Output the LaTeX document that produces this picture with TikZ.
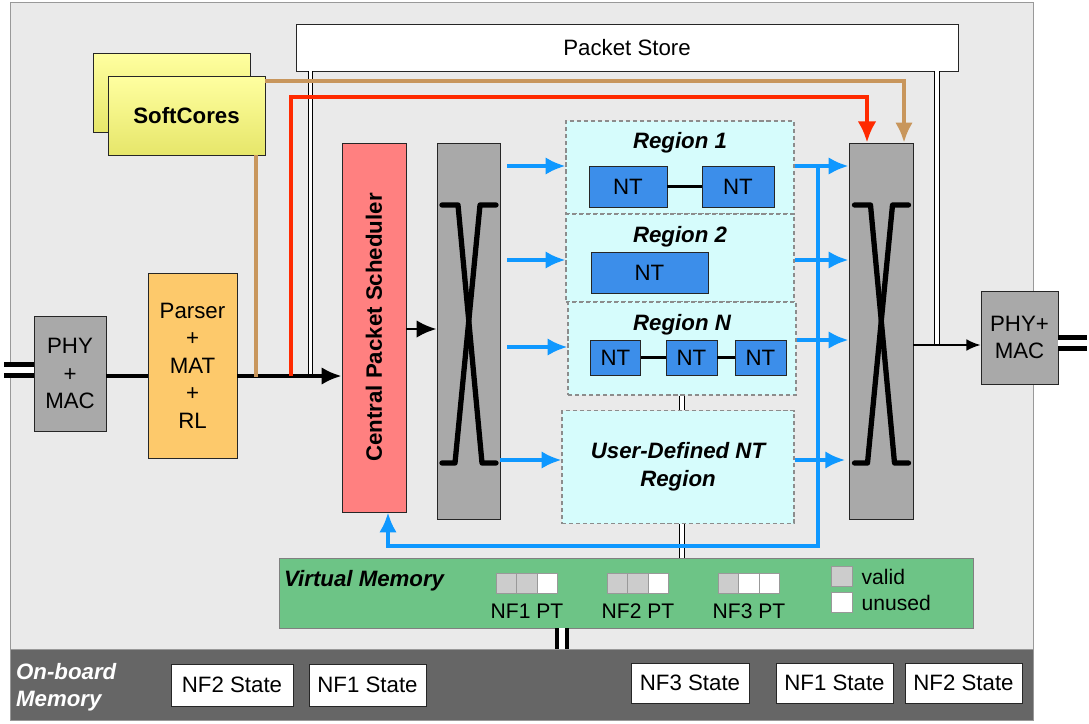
\documentclass[tikz,border=0pt]{standalone}
\usepackage{fontspec}
\setmainfont{Liberation Sans}
\usepackage{tikz}
\usetikzlibrary{positioning}
\usetikzlibrary{arrows, arrows.meta}
\definecolor{boardgray}{HTML}{EAEAEA}
\definecolor{memgray}{HTML}{666666}
\definecolor{phygray}{HTML}{A9A9A9}
\definecolor{parserorange}{HTML}{FDC96B}
\definecolor{schedred}{HTML}{FF8080}
\definecolor{regioncyan}{HTML}{D6FCFC}
\definecolor{ntblue}{HTML}{3C8EEA}
\definecolor{vmgreen}{HTML}{6DC486}
\definecolor{flowblue}{HTML}{0F98FF}
\definecolor{ctrlred}{HTML}{FF2A00}
\definecolor{coretan}{HTML}{C8965C}
\definecolor{coretop}{HTML}{FFFFA0}
\definecolor{corebot}{HTML}{E6E66A}
\definecolor{ptgray}{HTML}{CCCCCC}

\begin{document}
\begin{tikzpicture}[x=0.3mm, y=-0.3mm, font=\fontsize{19}{23.5}\selectfont,
    sz/.style 2 args = {minimum width=#1*0.3mm, minimum height=#2*0.3mm},
    box/.style = {draw=black!85, line width=0.8pt, inner sep=0pt, align=center},
    region/.style = {draw=black!45, line width=0.9pt, dash pattern=on 3.5pt off 2.5pt, fill=regioncyan, inner sep=0pt},
    nt/.style = {box, fill=ntblue},
    statebox/.style = {box, fill=white},
    cell/.style = {draw=black!40, line width=0.8pt, sz={20.7}{20}, inner sep=0pt},
    titletxt/.style = {font=\fontsize{19}{23.5}\selectfont\bfseries\itshape, align=center},
    smalltxt/.style = {font=\fontsize{18}{21}\selectfont},
    bigtip/.style = {-{Latex[length=17pt, width=15pt]}},
    flow/.style = {bigtip, line width=3.2pt, draw=flowblue},
    bus/.style = {draw=black, line width=0.8pt, double=white, double distance=3.2pt},
    xcross/.style = {line width=4.5pt, line cap=round, line join=round}]
    \useasboundingbox (0,0) rectangle (1089,723);

    \node[draw=black!40, fill=boardgray, line width=0.8pt, sz={1023}{647}] (board) at (521.5,325.5) {};
    \node[draw=black!40, fill=memgray, line width=0.8pt, sz={1023}{71}] (obmem) at (521.5,684.5) {};
    \node[titletxt, text=white, align=left, anchor=west] (obmtxt) at (12,687) {On-board\\Memory};

    \node[box, fill=white, sz={662}{47}] (ps) at (627,47.5) {Packet Store};
    \node[box, top color=coretop, bottom color=corebot, sz={157}{79}] (scback) at (171.5,92.5) {};
    \node[box, top color=coretop, bottom color=corebot, sz={157}{79}] (sc) at (186.5,115.5) {\bfseries SoftCores};

    \node[box, fill=phygray, sz={72}{115}] (phyl) at (70,373.5) {PHY\\+\\MAC};
    \node[box, fill=parserorange, sz={89}{185}] (parser) at (192.5,365.5) {Parser\\+\\MAT\\+\\RL};
    \node[box, fill=schedred, sz={64}{369}] (sched) at (374,327.5) {};
    \node[rotate=90, font=\fontsize{19}{23.5}\selectfont\bfseries] (schedtxt) at (sched.center) {Central Packet Scheduler};
    \node[box, fill=phygray, sz={63}{376}] (xb1) at (468.5,331) {};
    \node[box, fill=phygray, sz={64}{376}] (xb2) at (881,331) {};
    \node[box, fill=phygray, sz={77}{93}] (phyr) at (1019.5,337.5) {PHY+\\MAC};

    \node[region, sz={228}{93}] (r1) at (680,167.5) {};
    \node[region, sz={228}{88}] (r2) at (680,258) {};
    \node[region, sz={228}{93}] (rn) at (682,348.5) {};
    \node[region, sz={232}{113}] (ud) at (678,467) {};
    \node[titletxt] (r1t) at (680,143) {Region 1};
    \node[titletxt] (r2t) at (680,237) {Region 2};
    \node[titletxt] (rnt) at (682,325) {Region N};
    \node[titletxt] (udt) at (ud.center) {User-Defined NT\\Region};

    \node[nt, sz={78}{41}] (nt11) at (628,186.5) {NT};
    \node[nt, sz={72}{41}] (nt12) at (738,186.5) {NT};
    \node[nt, sz={117}{41}] (nt21) at (649.5,273) {NT};
    \node[nt, sz={50}{35}] (ntn1) at (615.5,357.5) {NT};
    \node[nt, sz={51}{35}] (ntn2) at (691.5,357.5) {NT};
    \node[nt, sz={51}{35}] (ntn3) at (760.5,357.5) {NT};
    \draw[line width=2pt] (nt11) -- (nt12);
    \draw[line width=2pt] (ntn1) -- (ntn2);
    \draw[line width=2pt] (ntn2) -- (ntn3);

    \node[draw=black!50, fill=vmgreen, line width=0.8pt, sz={694}{70}] (vm) at (626,593) {};
    \node[titletxt, anchor=west] (vmt) at (280,581) {Virtual Memory};
    \node[cell, fill=ptgray] (pt11) at (506.5,583) {};
    \node[cell, fill=ptgray] (pt12) at (527,583) {};
    \node[cell, fill=white] (pt13) at (547.5,583) {};
    \node[cell, fill=ptgray] (pt21) at (617.5,583) {};
    \node[cell, fill=ptgray] (pt22) at (638,583) {};
    \node[cell, fill=white] (pt23) at (658.5,583) {};
    \node[cell, fill=ptgray] (pt31) at (728.5,583) {};
    \node[cell, fill=white] (pt32) at (749,583) {};
    \node[cell, fill=white] (pt33) at (769.5,583) {};
    \node[smalltxt] (pt1l) at (527,611) {NF1 PT};
    \node[smalltxt] (pt2l) at (638,611) {NF2 PT};
    \node[smalltxt] (pt3l) at (749,611) {NF3 PT};
    \node[cell, fill=ptgray] (valid) at (842,576.5) {};
    \node[cell, fill=white] (unused) at (842,602.5) {};
    \node[smalltxt, right=1.4mm of valid] (validt) {valid};
    \node[smalltxt, right=1.4mm of unused] (unusedt) {unused};

    \node[statebox, sz={122}{42}] (s1) at (232,685) {NF2 State};
    \node[statebox, sz={117}{42}] (s2) at (367.5,685) {NF1 State};
    \node[statebox, sz={118}{40}] (s3) at (690,683) {NF3 State};
    \node[statebox, sz={117}{40}] (s4) at (834.5,683) {NF1 State};
    \node[statebox, sz={117}{40}] (s5) at (963.5,683) {NF2 State};

    \coordinate (mainy) at (0,376);
    \coordinate (cablel) at (4,370);
    \coordinate (cabler) at (1087,343);
    \coordinate (busl) at (310.5,376);
    \coordinate (busr) at (937,345);
    \coordinate (vmbus) at (562,0);
    \coordinate (tanjoin) at (256,377);
    \coordinate (tanturn) at (904,81);
    \coordinate (redjoin) at (291,376);
    \coordinate (redturn) at (867,97);
    \coordinate (sy) at (0,329);
    \coordinate (oy) at (0,345);
    \coordinate (fy1) at (0,166);
    \coordinate (fy2) at (0,260);
    \coordinate (fy3) at (0,347);
    \coordinate (fy4) at (0,460);
    \coordinate (gy3) at (0,340);
    \coordinate (rtop) at (818,166);
    \coordinate (rbot) at (818,546);
    \coordinate (rret) at (388,546);

    \draw[bus] (ps.south -| busl) -- (busl);
    \draw[bus] (ps.south -| busr) -- (busr);
    \draw[bus] (rn.south) -- (rn.south |- ud.north);
    \draw[bus] (ud.south -| rn.south) -- (vm.north -| rn.south);
    \draw[line width=3.5pt, double=white, double distance=4.5pt] (vm.south -| vmbus) -- (obmem.north -| vmbus);
    \draw[line width=4.3pt, double=white, double distance=5pt] (cablel) -- (phyl.west |- cablel);
    \draw[line width=3.8pt, double=white, double distance=5.5pt] (phyr.east |- cabler) -- (cabler);

    \draw[line width=3pt] (phyl.east |- mainy) -- (parser.west |- mainy);
    \draw[bigtip, line width=3pt] (parser.east |- mainy) -- (sched.west |- mainy);
    \draw[coretan, line width=3pt] (sc.south -| tanjoin) -- (tanjoin);
    \draw[bigtip, coretan, line width=3pt] (sc.east |- tanturn) -- (tanturn) -- (xb2.north -| tanturn);
    \draw[-{Latex[length=18pt, width=16pt]}, ctrlred, line width=3.4pt] (redjoin) |- (redturn) -- (xb2.north -| redturn);
    \draw[bigtip, line width=2.5pt] (sched.east |- sy) -- (xb1.west |- sy);
    \draw[-{Latex[length=12pt, width=10pt]}, line width=1.6pt] (xb2.east |- oy) -- (phyr.west |- oy);

    \draw[flow, shorten <=2.1mm] (xb1.east |- fy1) -- (r1.west |- fy1);
    \draw[flow, shorten <=2.1mm] (xb1.east |- fy2) -- (r2.west |- fy2);
    \draw[flow, shorten <=2.1mm] (xb1.east |- fy3) -- (rn.west |- fy3);
    \draw[flow] (xb1.east |- fy4) -- (ud.west |- fy4);
    \draw[flow] (r1.east |- fy1) -- (xb2.west |- fy1);
    \draw[flow] (r2.east |- fy2) -- (xb2.west |- fy2);
    \draw[flow] (rn.east |- gy3) -- (xb2.west |- gy3);
    \draw[flow, shorten >=1mm] (ud.east |- fy4) -- (xb2.west |- fy4);
    \draw[flow] (rtop) -- (rbot) -- (rret) -- (sched.south -| rret);

    \draw[xcross, shift={(xb1.center)}] (-26.5,-126) -- (-10.5,-126) -- (13.5,132) -- (27.5,132);
    \draw[xcross, shift={(xb1.center)}] (27.5,-126) -- (11.5,-126) -- (-13.5,132) -- (-26.5,132);
    \draw[xcross, shift={(xb2.center)}] (-26.5,-126) -- (-10.5,-126) -- (13.5,132) -- (27.5,132);
    \draw[xcross, shift={(xb2.center)}] (27.5,-126) -- (11.5,-126) -- (-13.5,132) -- (-26.5,132);
\end{tikzpicture}
\end{document}
